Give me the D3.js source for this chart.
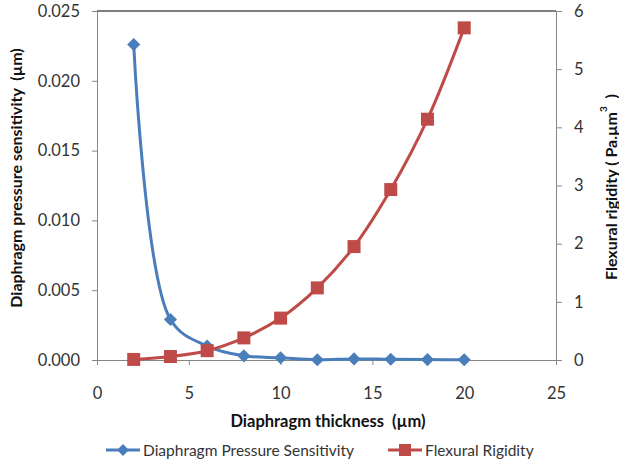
<!DOCTYPE html>
<html>
<head>
<meta charset="utf-8">
<script src="https://cdn.jsdelivr.net/npm/d3@7"></script>
<style>
  body { margin: 0; background: #fff; }
  text { font-family: Lato, "Liberation Sans", sans-serif; white-space: pre; }
</style>
</head>
<body>
<script>
const width = 619;
const height = 463;

// chart data
const thickness = [2, 4, 6, 8, 10, 12, 14, 16, 18, 20];
const sensitivity = [0.0226, 0.0029, 0.0010, 0.0003, 0.00016, 0.00002, 0.00008, 0.00005, 0.00003, 0.00002];
const rigidity = [0.01, 0.06, 0.16, 0.38, 0.72, 1.24, 1.95, 2.93, 4.14, 5.71];
const xTicks = [0, 5, 10, 15, 20, 25];
const leftTicks = [0, 0.005, 0.010, 0.015, 0.020, 0.025];
const rightTicks = [0, 1, 2, 3, 4, 5, 6];
const seriesNames = ["Diaphragm Pressure Sensitivity", "Flexural Rigidity"];

const blue = "#4a7ebb";
const red = "#be4b48";
const axisGray = "#868686";

const margin = { top: 11, right: 63, bottom: 103, left: 97 };

const svg = d3.select("body").append("svg")
  .attr("width", width)
  .attr("height", height)
  .attr("xmlns", "http://www.w3.org/2000/svg");

const x = d3.scaleLinear().domain([0, 25]).range([margin.left, width - margin.right]);
const yL = d3.scaleLinear().domain([0, 0.025]).range([height - margin.bottom, margin.top]);
const yR = d3.scaleLinear().domain([0, 6]).range([height - margin.bottom, margin.top]);

// top border
svg.append("line")
  .attr("x1", x(0)).attr("x2", x(25))
  .attr("y1", yL(0.025)).attr("y2", yL(0.025))
  .attr("stroke", "#000").attr("stroke-width", 1.2);

function styleAxis(g) {
  g.select(".domain").attr("stroke", axisGray);
  g.selectAll(".tick line").attr("stroke", axisGray);
  g.selectAll(".tick text").attr("fill", "#333").attr("font-size", 16.5);
}

svg.append("g")
  .attr("transform", `translate(0,${yL(0)})`)
  .call(d3.axisBottom(x).tickValues(xTicks).tickSize(5).tickSizeOuter(0).tickPadding(22))
  .call(styleAxis);

svg.append("g")
  .attr("transform", `translate(${x(0)},0)`)
  .call(d3.axisLeft(yL).tickValues(leftTicks).tickFormat(d3.format(".3f")).tickSize(5).tickSizeOuter(0).tickPadding(12))
  .call(styleAxis);

svg.append("g")
  .attr("transform", `translate(${x(25)},0)`)
  .call(d3.axisRight(yR).tickValues(rightTicks).tickFormat(d3.format("d")).tickSize(6).tickSizeOuter(0).tickPadding(12))
  .call(styleAxis);

// axis titles
svg.append("text")
  .attr("x", 328)
  .attr("y", 421)
  .attr("text-anchor", "middle")
  .attr("dominant-baseline", "central")
  .attr("font-size", 16.5)
  .attr("font-weight", "bold")
  .attr("fill", "#111")
  .text("Diaphragm thickness  (\u00b5m)");

svg.append("text")
  .attr("transform", `translate(15,178) rotate(-90)`)
  .attr("text-anchor", "middle")
  .attr("dominant-baseline", "central")
  .attr("font-size", 16)
  .attr("font-weight", "bold")
  .attr("fill", "#111")
  .text("Diaphragm pressure sensitivity  (\u00b5m)");

const rTitle = svg.append("text")
  .attr("transform", `translate(610,187) rotate(-90)`)
  .attr("text-anchor", "middle")
  .attr("dominant-baseline", "central")
  .attr("font-size", 16)
  .attr("font-weight", "bold")
  .attr("fill", "#111");
rTitle.append("tspan").text("Flexural rigidity ( Pa.\u00b5m");
rTitle.append("tspan").attr("font-size", 10).attr("dy", -7).text("3");
rTitle.append("tspan").attr("dy", 7).text("  )");

const curve = d3.curveCatmullRom.alpha(0.5);

const blueData = thickness.map((t, i) => ({ x: t, y: sensitivity[i] }));
const redData = thickness.map((t, i) => ({ x: t, y: rigidity[i] }));

svg.append("path")
  .attr("d", d3.line().x(d => x(d.x)).y(d => yL(d.y)).curve(curve)(blueData))
  .attr("fill", "none")
  .attr("stroke", blue)
  .attr("stroke-width", 3);

svg.append("path")
  .attr("d", d3.line().x(d => x(d.x)).y(d => yR(d.y)).curve(curve)(redData))
  .attr("fill", "none")
  .attr("stroke", red)
  .attr("stroke-width", 3);

const diamond = d3.symbol().type(d3.symbolDiamond2).size(110);

svg.selectAll("path.dia")
  .data(blueData)
  .enter()
  .append("path")
  .attr("class", "dia")
  .attr("d", diamond)
  .attr("transform", d => `translate(${x(d.x)},${yL(d.y)})`)
  .attr("fill", blue);

svg.selectAll("rect.sq")
  .data(redData)
  .enter()
  .append("rect")
  .attr("class", "sq")
  .attr("x", d => x(d.x) - 6.5)
  .attr("y", d => yR(d.y) - 6.5)
  .attr("width", 13)
  .attr("height", 13)
  .attr("fill", red);

// legend
const legend = svg.append("g").attr("transform", "translate(0,450)");
const legendItems = [
  { name: seriesNames[0], color: blue, x0: 106, shape: "diamond" },
  { name: seriesNames[1], color: red, x0: 388, shape: "square" }
];
legendItems.forEach(item => {
  legend.append("line")
    .attr("x1", item.x0).attr("x2", item.x0 + 34)
    .attr("y1", 0).attr("y2", 0)
    .attr("stroke", item.color).attr("stroke-width", 3);
  if (item.shape === "diamond") {
    legend.append("path")
      .attr("d", d3.symbol().type(d3.symbolDiamond2).size(90))
      .attr("transform", `translate(${item.x0 + 17},0)`)
      .attr("fill", item.color);
  } else {
    legend.append("rect")
      .attr("x", item.x0 + 11).attr("y", -6)
      .attr("width", 12).attr("height", 12)
      .attr("fill", item.color);
  }
  legend.append("text")
    .attr("x", item.x0 + 37)
    .attr("y", 0)
    .attr("dominant-baseline", "central")
    .attr("font-size", 15.5)
    .attr("fill", "#333")
    .text(item.name);
});
</script>
</body>
</html>
